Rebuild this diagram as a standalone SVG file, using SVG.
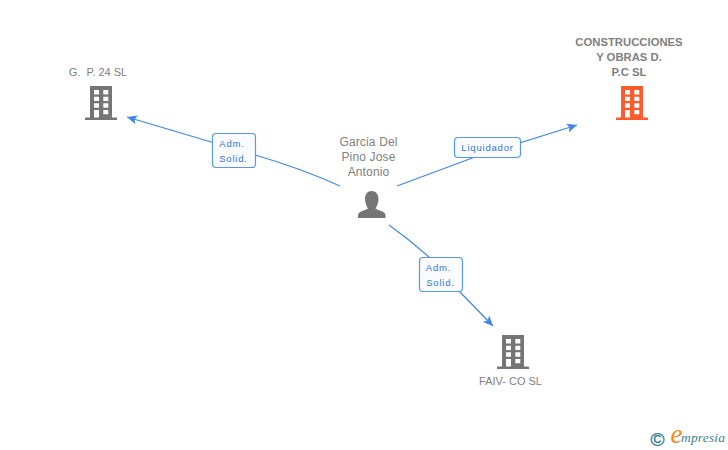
<svg xmlns="http://www.w3.org/2000/svg" width="728" height="450" viewBox="0 0 728 450">
<style>
text{font-family:"Liberation Sans",Arial,sans-serif}
.n{font-size:11px;fill:#7f7f7f;text-anchor:middle}
.p{font-size:12px;letter-spacing:.15px}
.b{font-weight:bold;font-size:11.300px}
.c{fill:none;stroke:#3f86e6;stroke-width:1.200}
.l{fill:#f9fbfe;stroke:#5b97e6;stroke-width:1.200}
.t{font-size:9.500px;fill:#2f78d8;text-anchor:middle;letter-spacing:.8px}
.s{font-family:"Liberation Serif",serif;font-style:italic}
</style>
<defs>
<marker id="a" viewBox="0 0 12 12" refX="11" refY="6" markerWidth="11" markerHeight="11" markerUnits="userSpaceOnUse" orient="auto"><path d="M0 1L11 6L0 11L2.500 6Z" fill="#3f86e6"/></marker>
<path id="bld" fill-rule="evenodd" d="M5 0H27V31.500H32V34H0V31.500H5ZM9 4V8.500H14V4ZM18.300 4V8.500H23.300V4ZM9 10.700V15H14V10.700ZM18.300 10.700V15H23.300V10.700ZM9 17.300V21.700H14V17.300ZM18.300 17.300V21.700H23.300V17.300ZM9 24V31.500H14V24ZM18.300 24V28.300H23.300V24Z"/>
</defs>
<rect width="728" height="450" fill="#fff"/>
<g id="connectors">
<path class="c" marker-end="url(#a)" d="M340 186Q300 168 255 155L127 117"/>
<path class="c" marker-end="url(#a)" d="M397 186L475 157L577 125"/>
<path class="c" marker-end="url(#a)" d="M389 225Q410 240 430 258L460 292L493 326"/>
</g>
<g id="label-adm-1"><rect class="l" x="212.500" y="133.500" width="43" height="34" rx="3.500"/><text class="t" x="232" y="147">Adm.</text><text class="t" x="233.500" y="162">Solid.</text></g>
<g id="label-liquidador"><rect class="l" x="454.500" y="137.500" width="66" height="20" rx="3.500"/><text class="t" x="487.500" y="151">Liquidador</text></g>
<g id="label-adm-2"><rect class="l" x="419.500" y="257.500" width="43" height="34" rx="3.500"/><text class="t" x="438.500" y="271">Adm.</text><text class="t" x="440.500" y="286">Solid.</text></g>
<g id="node-gp24"><text class="n" x="98" y="76" xml:space="preserve">G.  P. 24 SL</text><use href="#bld" x="85" y="86" fill="#757575"/></g>
<g id="node-construcciones"><text class="n b" x="629" y="46">CONSTRUCCIONES</text><text class="n b" x="629" y="61">Y OBRAS D.</text><text class="n b" x="629" y="76">P.C SL</text><use href="#bld" x="616" y="86" fill="#ff5a2b"/></g>
<g id="node-faiv"><use href="#bld" x="497" y="335" fill="#757575"/><text class="n" x="510.500" y="385">FAIV- CO SL</text></g>
<g id="node-garcia"><text class="n p" x="368.500" y="146">Garcia Del</text><text class="n p" x="368.500" y="161">Pino Jose</text><text class="n p" x="368.500" y="176">Antonio</text>
<path fill="#757575" d="M371.500 191C376 191 378.500 194.500 378.500 199C378.500 203 377 206 375.500 208.500C379 211 385 211 385.500 215V218H358V215C358.500 211 364.500 211 368 208.500C366.500 206 365 203 365 199C365 194.500 367.500 191 371.500 191Z"/></g>
<g id="logo"><text x="657.500" y="445.500" font-size="19" fill="#3f7f96" stroke="#3f7f96" stroke-width=".4" text-anchor="middle">©</text><text class="s" x="670.500" y="443" font-size="27" fill="#f08a1d">e</text><text class="s" x="681" y="442" font-size="13.500" fill="#3f7f96" textLength="44">mpresia</text></g>
</svg>
